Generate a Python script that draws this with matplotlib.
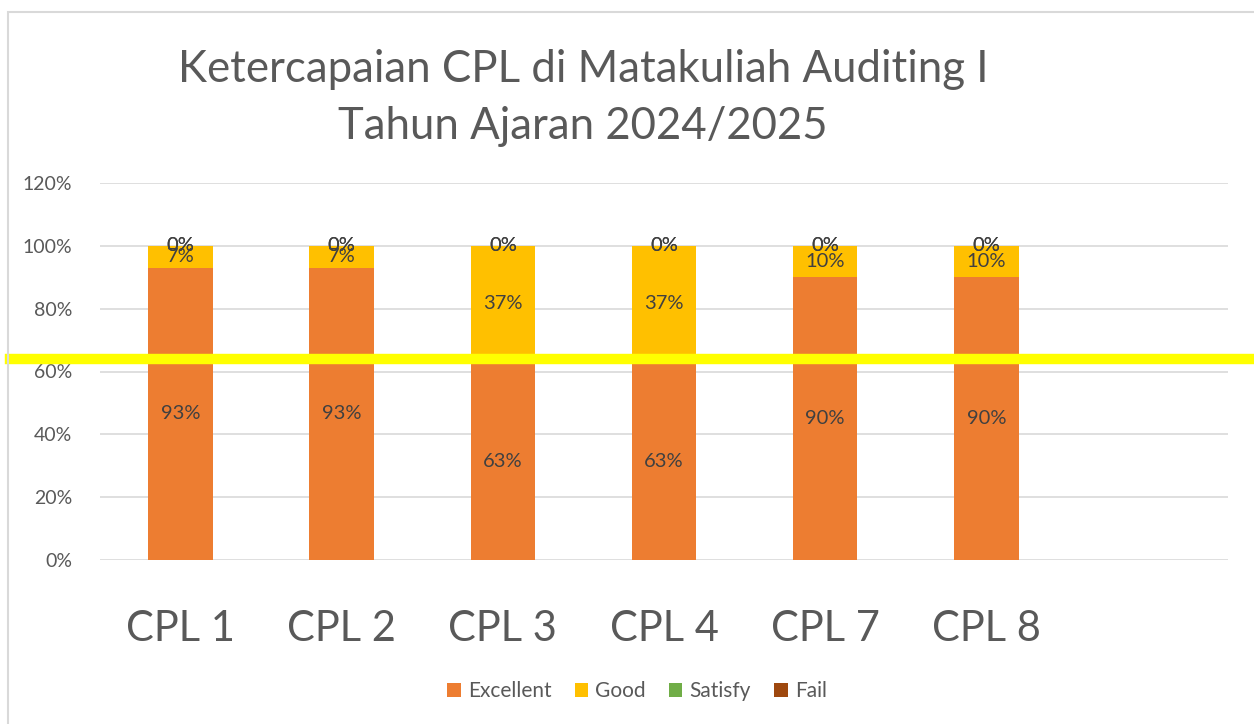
import matplotlib
matplotlib.use("Agg")
from matplotlib import pyplot as plt
from matplotlib.patches import Rectangle
import numpy as np

categories = ["CPL 1", "CPL 2", "CPL 3", "CPL 4", "CPL 7", "CPL 8", ""]
excellent = [93, 93, 63, 63, 90, 90, 0]
good = [7, 7, 37, 37, 10, 10, 0]
satisfy = [0, 0, 0, 0, 0, 0, 0]
fail = [0, 0, 0, 0, 0, 0, 0]
n_real = 6
threshold = 64

colors = {"Excellent": "#ED7D31", "Good": "#FFC000", "Satisfy": "#70AD47", "Fail": "#9E480E"}
title = "Ketercapaian CPL di Matakuliah Auditing I\nTahun Ajaran 2024/2025"

plt.rcParams["font.family"] = ["Lato", "DejaVu Sans"]

fig = plt.figure(figsize=(12.54, 7.24), dpi=100)
W, H = 1254, 724
ax = fig.add_axes([100 / W, 1 - 560 / H, 1128 / W, 377 / H])

# chart border
fig.patches.append(Rectangle((8 / W, -0.1), 1.2, 1 - 12 / H + 0.1, transform=fig.transFigure,
                             fill=False, edgecolor="#D9D9D9", linewidth=1.5))

x = np.arange(len(categories))
width = 0.40
bottom = np.zeros(len(categories))
series = [("Excellent", excellent), ("Good", good), ("Satisfy", satisfy), ("Fail", fail)]
for name, vals in series:
    vals = np.array(vals, dtype=float)
    ax.bar(x, vals, width, bottom=bottom, color=colors[name], label=name, zorder=2)
    for i in range(n_real):
        ax.text(x[i], bottom[i] + vals[i] / 2, f"{vals[i]:.0f}%", ha="center", va="center",
                fontsize=14.5, color="#404040", zorder=4)
    bottom += vals

ax.set_xlim(-0.5, len(categories) - 0.5)
ax.set_ylim(0, 120)
ax.set_yticks(range(0, 121, 20))
ax.set_yticklabels([f"{v}%" for v in range(0, 121, 20)], fontsize=14, color="#595959")
ax.set_xticks(x)
ax.set_xticklabels(categories, fontsize=30, color="#595959")
ax.tick_params(length=0)
ax.tick_params(axis="y", pad=20)
ax.tick_params(axis="x", pad=36)
ax.grid(axis="y", color="#D9D9D9", linewidth=1.2, zorder=0)
for s in ax.spines.values():
    s.set_visible(False)

# threshold line
ax.axhline(threshold, xmin=-90 / 1128, xmax=1154 / 1128, color="#FFFF00", linewidth=7.5,
           clip_on=False, zorder=5)

fig.text(583 / W, 1 - 98 / H, title, ha="center", va="center", fontsize=31.5,
         color="#595959", linespacing=1.5)

fig.legend(loc="center", bbox_to_anchor=(637 / W, 1 - 691 / H), ncol=4, frameon=False,
           fontsize=15, labelcolor="#595959", handlelength=0.65, handleheight=0.65,
           handletextpad=0.35, columnspacing=1.1)

fig.savefig("out.png", dpi=100)
